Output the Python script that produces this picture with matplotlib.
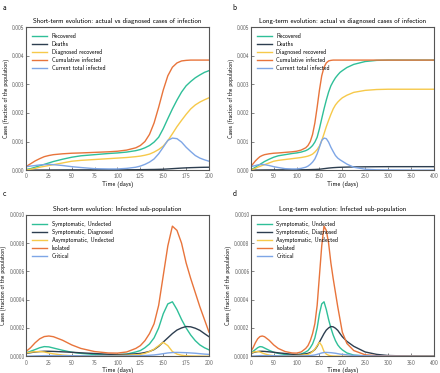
import matplotlib
matplotlib.use("Agg")
import matplotlib.pyplot as plt
from matplotlib.ticker import FormatStrFormatter
import numpy as np

t = [0, 5, 10, 15, 20, 25, 30, 40, 50, 60, 75, 90, 100, 110, 120, 125, 130, 135,
     140, 145, 150, 155, 160, 165, 170, 175, 180, 185, 190, 195, 200, 210, 225,
     250, 275, 300, 350, 400]

# top panels, units of 1e-4 (fraction of the population)
recovered = [0.2, 0.5, 1.0, 1.5, 2.0, 2.5, 3.0, 3.8, 4.5, 5.0, 5.4, 5.8, 6.0, 6.3, 6.8, 7.2, 7.8, 8.6,
             9.8, 11.5, 14.5, 18.0, 21.4, 24.5, 27.3, 29.5, 31.0, 32.3, 33.3, 34.2, 34.8, 35.9, 37.0,
             38.0, 38.4, 38.5, 38.5, 38.5]
deaths = [0.0, 0.0, 0.01, 0.02, 0.03, 0.04, 0.05, 0.06, 0.07, 0.08, 0.09, 0.1, 0.1, 0.11, 0.13, 0.15, 0.17, 0.2,
          0.22, 0.26, 0.3, 0.4, 0.5, 0.6, 0.7, 0.78, 0.85, 0.9, 0.95, 0.98, 1.0, 1.05, 1.1,
          1.15, 1.18, 1.2, 1.2, 1.2]
diag_recovered = [0.0, 0.3, 0.6, 1.0, 1.3, 1.6, 1.9, 2.5, 3.1, 3.4, 3.7, 4.0, 4.2, 4.4, 4.7, 4.9, 5.2, 5.6,
                  6.3, 7.2, 8.4, 10.3, 12.7, 15.2, 17.4, 19.5, 21.4, 22.8, 23.8, 24.6, 25.3, 26.2, 27.2,
                  27.9, 28.2, 28.3, 28.3, 28.3]
cum_infected = [1.2, 2.2, 3.2, 4.0, 4.7, 5.1, 5.4, 5.7, 5.9, 6.0, 6.2, 6.4, 6.6, 7.0, 7.8, 8.6, 10.0, 12.5,
                16.5, 22.0, 28.0, 33.0, 36.0, 37.5, 38.2, 38.4, 38.5, 38.5, 38.5, 38.5, 38.5, 38.5, 38.5,
                38.5, 38.5, 38.5, 38.5, 38.5]
cur_infected = [1.2, 1.4, 1.6, 1.8, 1.9, 2.0, 1.9, 1.6, 1.2, 0.9, 0.5, 0.4, 0.4, 0.6, 1.0, 1.4, 2.0, 2.8,
                3.9, 5.7, 8.0, 10.4, 11.2, 11.0, 9.8, 8.0, 6.5, 5.1, 4.2, 3.6, 3.1, 2.1, 1.0,
                0.3, 0.1, 0.05, 0.0, 0.0]

# bottom panels, units of 1e-5
symp_undetected = [2.3, 3.5, 4.7, 6.0, 6.8, 6.6, 5.8, 4.2, 2.8, 2.0, 1.2, 0.9, 1.0, 1.5, 3.0, 4.0, 6.0, 8.7,
                   13.0, 20.0, 30.0, 37.0, 38.5, 33.0, 26.0, 20.0, 15.0, 11.0, 8.0, 6.0, 4.5, 2.3, 0.8,
                   0.2, 0.05, 0.0, 0.0, 0.0]
symp_diagnosed = [2.0, 2.5, 3.0, 3.3, 3.5, 3.5, 3.4, 3.1, 2.8, 2.4, 1.9, 1.4, 1.2, 1.3, 1.7, 2.0, 2.6, 3.4,
                  4.7, 7.0, 10.0, 13.0, 16.0, 18.5, 20.0, 21.0, 20.8, 19.8, 18.3, 16.0, 13.8, 10.5, 7.0,
                  3.0, 1.3, 0.5, 0.1, 0.0]
asymp_undetected = [2.3, 2.8, 3.2, 3.3, 3.0, 2.3, 1.7, 0.8, 0.4, 0.2, 0.2, 0.3, 0.5, 0.7, 1.0, 1.3, 2.0, 3.3,
                    5.0, 7.5, 9.8, 7.5, 3.3, 1.5, 0.7, 0.3, 0.15, 0.1, 0.05, 0.0, 0.0, 0.0, 0.0,
                    0.0, 0.0, 0.0, 0.0, 0.0]
isolated = [3.3, 6.0, 9.5, 12.3, 13.9, 14.3, 13.8, 11.3, 8.0, 5.5, 3.3, 2.3, 2.2, 3.0, 5.5, 7.5, 11.0, 16.0,
            23.0, 36.0, 57.0, 78.0, 92.0, 89.0, 80.0, 66.0, 55.0, 45.0, 35.0, 26.0, 17.0, 9.0, 4.0,
            1.0, 0.4, 0.2, 0.0, 0.0]
critical = [0.0, 0.1, 0.2, 0.3, 0.4, 0.45, 0.45, 0.4, 0.35, 0.3, 0.2, 0.15, 0.15, 0.2, 0.3, 0.35, 0.5, 0.7,
            0.9, 1.3, 1.8, 2.3, 2.6, 2.7, 2.6, 2.5, 2.3, 2.1, 1.8, 1.5, 1.3, 1.0, 0.6,
            0.3, 0.1, 0.05, 0.0, 0.0]

top_labels = ["Recovered", "Deaths", "Diagnosed recovered", "Cumulative infected", "Current total infected"]
bottom_labels = ["Symptomatic, Undected", "Symptomatic, Diagnosed", "Asymptomatic, Undected",
                 "Isolated", "Critical"]
colors = ["#2fbf98", "#2d3e50", "#f6c94a", "#e8743b", "#7ea6e6"]

plt.rcParams['font.family'] = ['cmss10', 'DejaVu Sans']
plt.rcParams['axes.unicode_minus'] = False
plt.rcParams['axes.formatter.use_mathtext'] = True

t = np.array(t)
top = [np.array(s) * 1e-4 for s in [recovered, deaths, diag_recovered, cum_infected, cur_infected]]
bottom = [np.array(s) * 1e-5 for s in [symp_undetected, symp_diagnosed, asymp_undetected, isolated, critical]]

fig = plt.figure(figsize=(4.4, 3.73), dpi=100)
w, h = 0.416, 0.383
boxes = {"a": [0.059, 0.544, w, h], "b": [0.570, 0.544, w, h],
         "c": [0.059, 0.045, w, 0.379], "d": [0.570, 0.045, w, 0.379]}
letters = {"a": (0.006, 0.99), "b": (0.528, 0.99), "c": (0.006, 0.49), "d": (0.528, 0.49)}
titles = {"a": "Short-term evolution: actual vs diagnosed cases of infection",
          "b": "Long-term evolution: actual vs diagnosed cases of infection",
          "c": "Short-term evolution: Infected sub-population",
          "d": "Long-term evolution: Infected sub-population"}

for key in ["a", "b", "c", "d"]:
    ax = fig.add_axes(boxes[key])
    series = top if key in "ab" else bottom
    labels = top_labels if key in "ab" else bottom_labels
    tmax = 200 if key in "ac" else 400
    mask = t <= tmax
    for s, lab, c in zip(series, labels, colors):
        ax.plot(t[mask], s[mask], color=c, lw=1.0, label=lab)
    ax.set_xlim(0, tmax)
    if key in "ab":
        ax.set_ylim(0, 0.005)
        ax.set_yticks(np.arange(0, 0.0051, 0.001))
        ax.yaxis.set_major_formatter(FormatStrFormatter("%.3f"))
    else:
        ax.set_ylim(0, 0.001)
        ax.set_yticks(np.arange(0, 0.00101, 0.0002))
        ax.yaxis.set_major_formatter(FormatStrFormatter("%.4f"))
    if tmax == 200:
        ax.set_xticks(range(0, 201, 25))
    else:
        ax.set_xticks(range(0, 401, 50))
    ax.tick_params(direction="in", length=2, width=0.5, labelsize=3.9, colors="#555555", pad=1.0)
    for sp in ax.spines.values():
        sp.set_color("#555555")
        sp.set_linewidth(0.8)
    ax.set_title(titles[key], fontsize=4.9, pad=3)
    ax.set_xlabel("Time (days)", fontsize=4.4, labelpad=0.6)
    ax.set_ylabel("Cases (fraction of the population)", fontsize=4.0, labelpad=1.5)
    ax.legend(loc="upper left", frameon=False, fontsize=4.2, handlelength=2.6,
              labelspacing=0.35, borderaxespad=0.6)
    fig.text(letters[key][0], letters[key][1], key, fontsize=5.5, va="top")

fig.savefig("out.png", dpi=100)
